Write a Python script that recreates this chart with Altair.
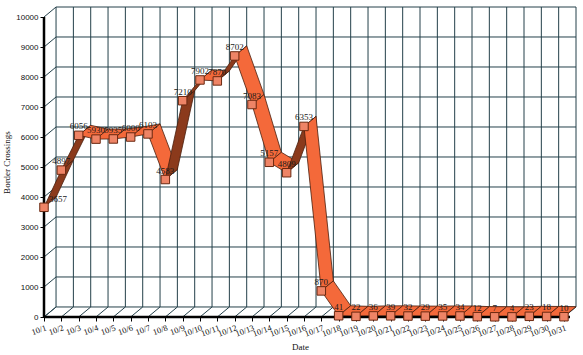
import altair as alt
import pandas as pd

# ---- data ----
days = list(range(1, 32))
date_labels = [f"10/{d}" for d in days]
crossings = [3657, 4897, 6056, 5930, 5935, 6000, 6103, 4583, 7210, 7902,
             7870, 8702, 7083, 5157, 4809, 6353, 870, 41, 22, 36,
             39, 32, 29, 35, 34, 12, 7, 4, 23, 18, 10]
y_ticks = list(range(0, 10001, 1000))

# ---- 3D depth offset (in data units) ----
DX = 0.695   # days
DY = 334     # crossings

ORANGE = "#F4693A"
BROWN = "#8B3A1C"
GRID = "#24404A"

xs = alt.Scale(domain=[1, 31 + DX], nice=False, zero=False)
ys = alt.Scale(domain=[0, 10000 + DY], nice=False, zero=False)

# ribbon quads
rows = []
for i in range(len(days) - 1):
    d0, d1 = days[i], days[i + 1]
    v0, v1 = crossings[i], crossings[i + 1]
    face = "under" if (v1 - v0) > DY / DX else "top"
    pts = [(d0, v0), (d1, v1), (d1 + DX, v1 + DY), (d0 + DX, v0 + DY)]
    for k, (px, py) in enumerate(pts):
        rows.append({"seg": i, "k": k, "x": px, "y": py, "face": face})
ribbon_df = pd.DataFrame(rows)

pts_df = pd.DataFrame({"x": days, "date": date_labels, "y": crossings})

hgrid = pd.DataFrame({"x": [1 + DX] * len(y_ticks), "x2": [31 + DX] * len(y_ticks),
                      "y": [t + DY for t in y_ticks]})
vgrid = pd.DataFrame({"x": [d + DX for d in days], "y": [DY] * len(days),
                      "y2": [10000 + DY] * len(days)})
floor_diag = pd.DataFrame({"x": days, "y": [0] * len(days),
                           "x2": [d + DX for d in days], "y2": [DY] * len(days)})
left_diag = pd.DataFrame({"x": [1] * len(y_ticks), "y": y_ticks,
                          "x2": [1 + DX] * len(y_ticks), "y2": [t + DY for t in y_ticks]})

axis_y = alt.Axis(values=y_ticks, format="d", domain=False, grid=False, tickSize=4,
                  tickColor="black", labelFont="Liberation Sans", labelFontSize=8,
                  labelColor="#111",
                  title="Border Crossings", titleFont="Liberation Serif", titleFontSize=9,
                  titleFontWeight="normal", titleColor="#111")
axis_x = alt.Axis(values=days, labelExpr="'10/' + datum.value", domain=False, grid=False,
                  tickSize=4, tickColor="black", labelAngle=-20, labelAlign="right",
                  labelBaseline="top", labelFont="Liberation Serif", labelFontSize=8.5,
                  labelColor="#111", labelOverlap=False,
                  title="Date", titleFont="Liberation Serif", titleFontSize=9,
                  titleFontWeight="normal", titleColor="#111", titleX=256, titleY=29,
                  titleBaseline="middle")


def X(f="x"):
    return alt.X(f"{f}:Q", scale=xs, axis=axis_x)


def Y(f="y"):
    return alt.Y(f"{f}:Q", scale=ys, axis=axis_y)


hg = alt.Chart(hgrid).mark_rule(color=GRID, strokeWidth=1).encode(
    x=X(), x2="x2:Q", y=Y())
vg = alt.Chart(vgrid).mark_rule(color=GRID, strokeWidth=1).encode(
    x=X(), y=Y(), y2="y2:Q")
fd = alt.Chart(floor_diag).mark_rule(color=GRID, strokeWidth=1).encode(
    x=X(), y=Y(), x2="x2:Q", y2="y2:Q")
ld = alt.Chart(left_diag).mark_rule(color=GRID, strokeWidth=1).encode(
    x=X(), y=Y(), x2="x2:Q", y2="y2:Q")

yline = alt.Chart(pd.DataFrame({"x": [1], "y": [0], "y2": [10000]})).mark_rule(
    color="black", strokeWidth=2.5).encode(x=X(), y=Y(), y2="y2:Q")
xline = alt.Chart(pd.DataFrame({"x": [1], "x2": [31 + DX / 2], "y": [0]})).mark_rule(
    color="black", strokeWidth=2.5).encode(x=X(), x2="x2:Q", y=Y())

ribbon = alt.Chart(ribbon_df).mark_line(
    filled=True, interpolate="linear-closed", stroke="#4A1E0C", strokeWidth=0.8,
    strokeJoin="round").encode(
    x=X(), y=Y(),
    detail="seg:N",
    order="k:Q",
    color=alt.Color("face:N", scale=alt.Scale(domain=["top", "under"], range=[ORANGE, BROWN]),
                    legend=None))

markers = alt.Chart(pts_df).mark_point(
    shape="square", size=72, filled=True, fill="#EE8466", stroke="#6A2810",
    strokeWidth=1, opacity=1).encode(x=X(), y=Y())

labels = alt.Chart(pts_df).transform_filter("datum.x > 1").mark_text(
    font="Liberation Serif", fontSize=9, color="#1a1a1a", dy=-9).encode(
    x=X(), y=Y(), text="y:Q")
first_label = alt.Chart(pts_df).transform_filter("datum.x == 1").mark_text(
    font="Liberation Serif", fontSize=9, color="#1a1a1a", dy=-8, dx=5, align="left").encode(
    x=X(), y=Y(), text="y:Q")

chart = alt.layer(hg, vg, fd, ld, ribbon, yline, xline, labels, first_label,
                  markers).properties(
    width=532, height=310,
    autosize=alt.AutoSizeParams(type="none"),
    padding={"left": 44, "top": 7, "right": 7, "bottom": 38},
    background="white",
).configure_view(stroke=None)

chart.save("out.html", embed_options={"renderer": "svg", "actions": False})
